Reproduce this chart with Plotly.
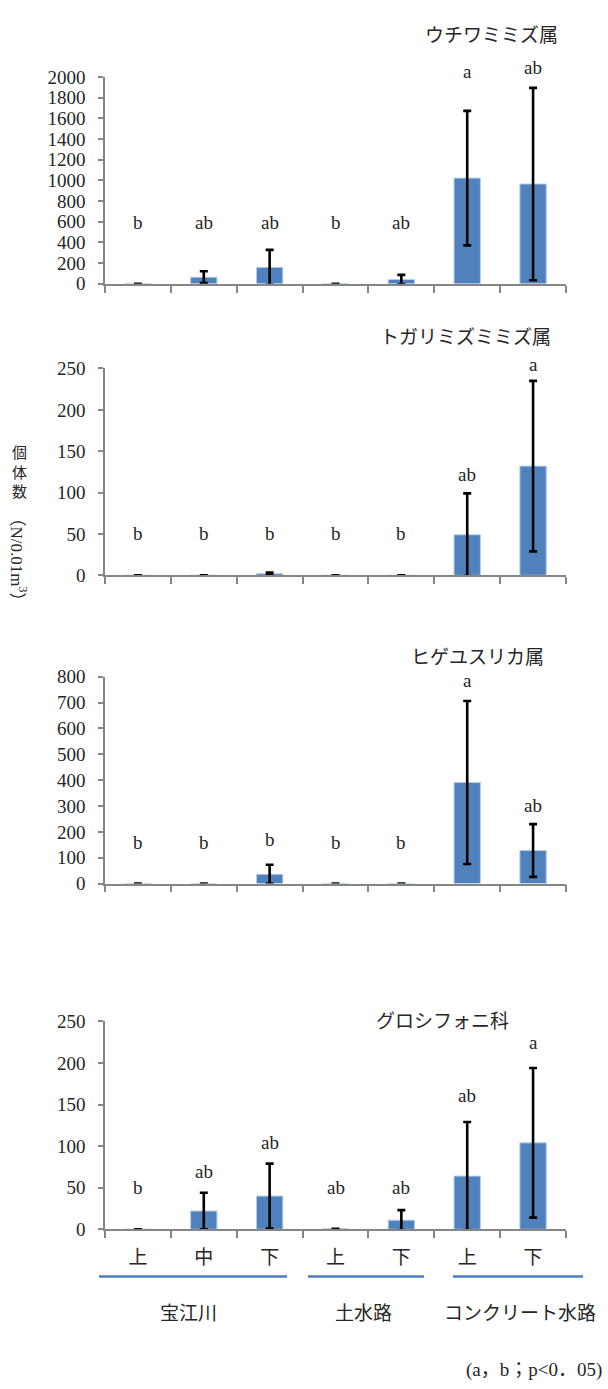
import plotly.graph_objects as go

W, H = 608, 1389

categories = ["宝江川-上", "宝江川-中", "宝江川-下", "土水路-上", "土水路-下", "コンクリート水路-上", "コンクリート水路-下"]
tick_labels = ["上", "中", "下", "上", "下", "上", "下"]
group_labels = ["宝江川", "土水路", "コンクリート水路"]

titles = ["ウチワミミズ属", "トガリミズミミズ属", "ヒゲユスリカ属", "グロシフォニ科"]

p1_vals = [0, 64, 159, 0, 41, 1022, 965]
p1_err = [0, 57, 169, 0, 45, 650, 930]
p1_letters = ["b", "ab", "ab", "b", "ab", "a", "ab"]
p1_letter_y = [590, 590, 590, 590, 590, 2050, 2095]

p2_vals = [0, 0, 2, 0, 0, 49, 132]
p2_err = [0, 0, 1.5, 0, 0, 50, 103]
p2_letters = ["b", "b", "b", "b", "b", "ab", "a"]
p2_letter_y = [50, 50, 50, 50, 50, 122, 255]

p3_vals = [0, 0, 36, 0, 0, 391, 128]
p3_err = [0, 0, 37, 0, 0, 315, 102]
p3_letters = ["b", "b", "b", "b", "b", "a", "ab"]
p3_letter_y = [160, 160, 172, 160, 160, 785, 302]

p4_vals = [0, 22, 40, 0.5, 11, 64, 104]
p4_err = [None, 22, 39, None, 12, 65, 90]
p4_letters = ["b", "ab", "ab", "ab", "ab", "ab", "a"]
p4_letter_y = [50, 70, 105, 50, 50, 161, 225]

y_max = [2000, 250, 800, 250]
y_dtick = [200, 50, 100, 50]

panels = [
    (p1_vals, p1_err, p1_letters, p1_letter_y),
    (p2_vals, p2_err, p2_letters, p2_letter_y),
    (p3_vals, p3_err, p3_letters, p3_letter_y),
    (p4_vals, p4_err, p4_letters, p4_letter_y),
]

# layout geometry (pixels)
x_left, x_right = 105, 566
panel_px = [(68, 278), (364, 574), (677, 887), (1027, 1238)]
title_pos = [(491, 24), (465, 331), (477, 655), (442, 1025)]

SERIF = "Liberation Serif, Noto Sans CJK JP"
CJK = "Noto Sans CJK JP"
TXT = "#262626"
AX = "#868686"

def px_x(x):
    return x / W

def px_y(y):
    return 1 - y / H

fig = go.Figure()
layout = dict(
    width=W, height=H, margin=dict(l=0, r=0, t=0, b=0),
    paper_bgcolor="white", plot_bgcolor="white",
    showlegend=False, bargap=0.6,
    annotations=[], shapes=[],
)

for i, (vals, errs, letters, ly) in enumerate(panels):
    n = i + 1
    xa = "x" if n == 1 else f"x{n}"
    ya = "y" if n == 1 else f"y{n}"
    fig.add_trace(go.Bar(
        x=categories, y=vals, xaxis=xa, yaxis=ya,
        marker=dict(color="#4F81BD", line=dict(color="#B9CDE5", width=1)),
        error_y=dict(type="data", array=errs, visible=True, color="black",
                     thickness=2.6, width=4),
        hoverinfo="skip",
    ))
    # significance letters, positioned on the panel's value scale
    for cat, lt, yv in zip(categories, letters, ly):
        layout["annotations"].append(dict(
            text=lt, x=cat, y=yv / y_max[i], xref=xa, yref=f"{ya} domain",
            xanchor="center", yanchor="middle", showarrow=False,
            font=dict(family=SERIF, size=19, color=TXT),
        ))
    top, bot = panel_px[i]
    last = (n == 4)
    layout[f"xaxis{'' if n == 1 else n}"] = dict(
        domain=[px_x(x_left), px_x(x_right)], anchor=ya,
        type="category", categoryorder="array", categoryarray=categories,
        showline=True, linecolor=AX, linewidth=1.5,
        ticks="outside", tickson="boundaries", ticklen=7, tickcolor=AX, tickwidth=1.5,
        showgrid=False, zeroline=False,
        tickmode="array", tickvals=categories, ticktext=tick_labels,
        showticklabels=last, ticklabelstandoff=10,
        tickfont=dict(family=CJK, size=19, color=TXT),
        fixedrange=True,
    )
    layout[f"yaxis{'' if n == 1 else n}"] = dict(
        domain=[px_y(bot), px_y(top)], anchor=xa,
        range=[0, y_max[i]], dtick=y_dtick[i], tick0=0,
        showline=True, linecolor=AX, linewidth=1.5,
        ticks="outside", ticklen=5, tickcolor=AX, tickwidth=1.5,
        showgrid=False, zeroline=False, ticklabelstandoff=9,
        tickfont=dict(family=SERIF, size=19, color=TXT),
        fixedrange=True,
    )
    tx, ty = title_pos[i]
    layout["annotations"].append(dict(
        text=titles[i], x=px_x(tx), y=px_y(ty), xref="paper", yref="paper",
        xanchor="center", yanchor="middle", showarrow=False,
        font=dict(family=CJK, size=19, color=TXT),
    ))

# group underline and labels
group_spans = [(99, 287), (308, 424), (453, 583)]
group_centers = [188, 363, 520]
for (a, b), c, lab in zip(group_spans, group_centers, group_labels):
    layout["shapes"].append(dict(
        type="line", xref="paper", yref="paper",
        x0=px_x(a), x1=px_x(b), y0=px_y(1286), y1=px_y(1286),
        line=dict(color="#4A7EBB", width=2.5),
    ))
    layout["annotations"].append(dict(
        text=lab, x=px_x(c), y=px_y(1321), xref="paper", yref="paper",
        xanchor="center", yanchor="middle", showarrow=False,
        font=dict(family=CJK, size=19, color=TXT),
    ))

# y-axis title: upright CJK + rotated unit
layout["annotations"].append(dict(
    text="個<br>体<br>数", x=px_x(19), y=px_y(468), xref="paper", yref="paper",
    xanchor="center", yanchor="middle", showarrow=False,
    font=dict(family=CJK, size=15, color=TXT),
))
layout["annotations"].append(dict(
    text="（N/0.01m<sup>3</sup>）", x=px_x(19), y=px_y(558), xref="paper", yref="paper",
    xanchor="center", yanchor="middle", showarrow=False, textangle=90,
    font=dict(family=SERIF, size=17, color=TXT),
))

# significance note
layout["annotations"].append(dict(
    text="(a，b；p<0．05)", x=px_x(604), y=px_y(1381), xref="paper", yref="paper",
    xanchor="right", yanchor="middle", showarrow=False,
    font=dict(family=SERIF, size=19, color=TXT),
))

fig.update_layout(**layout)
fig.write_html("out.html", config={"displayModeBar": False},
               post_script="document.body.style.margin='0px';document.body.style.overflow='hidden';")
